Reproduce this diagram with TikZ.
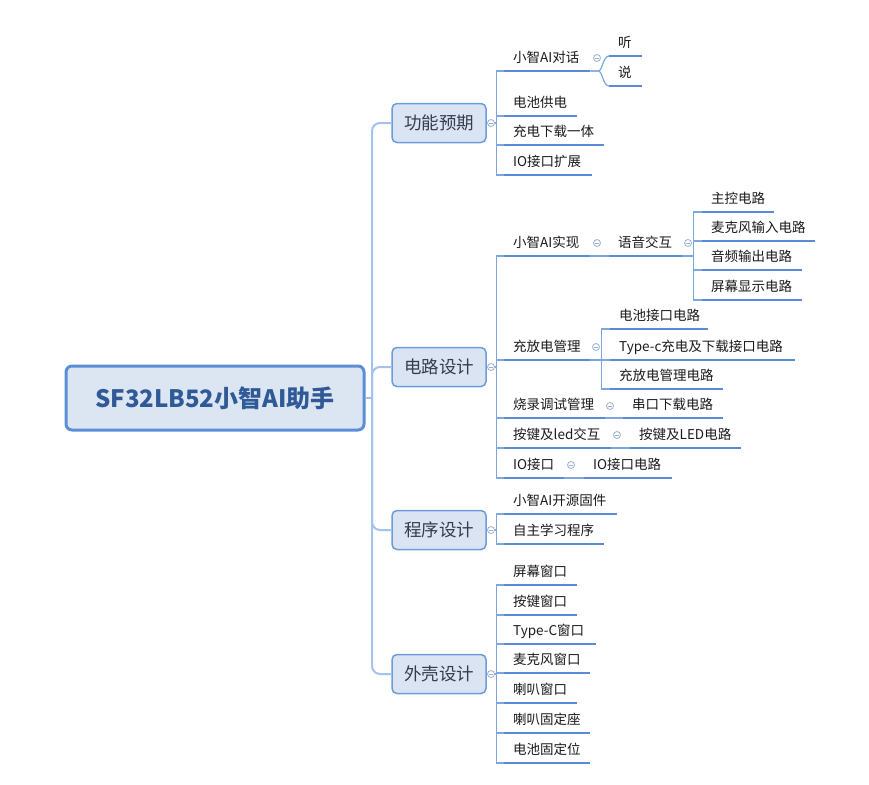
\documentclass[tikz,border=0pt]{standalone}
\usepackage{fontspec}
\setmainfont{Noto Sans CJK SC}
\definecolor{mainB}{HTML}{5A8ED7}
\definecolor{mainF}{HTML}{DCE6F3}
\definecolor{mainT}{HTML}{2F5A97}
\definecolor{topB}{HTML}{6C9CDC}
\definecolor{topF}{HTML}{DAE4F3}
\definecolor{topT}{HTML}{333D4F}
\definecolor{ulc}{HTML}{5B8BD6}
\definecolor{connc}{HTML}{7EA6DE}
\definecolor{trunkc}{HTML}{A4C2EC}
\definecolor{knobB}{HTML}{9AB0CF}
\definecolor{leafT}{HTML}{1A1A1A}
\newcommand\myleaf[5]{\pgfmathsetmacro\lw{#3-#2-18}\node[leaf,text width=\lw pt] (#1) at (#2,#4) {#5};}
\begin{document}
\begin{tikzpicture}[x=1pt,y=-1pt,
  mainbox/.style={draw=mainB, line width=3pt, fill=mainF, rounded corners=6pt, minimum width=298pt, minimum height=64pt, inner sep=0pt, font=\fontsize{24}{27}\selectfont\bfseries, text=mainT},
  topic/.style={draw=topB, line width=1.5pt, fill=topF, rounded corners=5pt, minimum width=94pt, minimum height=39pt, inner sep=0pt, font=\fontsize{17.5}{20}\selectfont, text=topT},
  leaf/.style={anchor=south west, inner xsep=9pt, inner ysep=4pt, text height=11pt, text depth=4pt, align=left, font=\fontsize{13.5}{15}\selectfont, text=leafT},
  uline/.style={draw=ulc, line width=2.5pt},
  conn/.style={draw=connc, line width=1.2pt},
  trunk/.style={draw=trunkc, line width=2pt},
  knob/.style={circle, draw=knobB, fill=white, minimum size=7pt, inner sep=0pt, line width=0.8pt,
    path picture={\draw[knobB, line width=0.8pt] ([xshift=-2pt]path picture bounding box.center) -- ([xshift=2pt]path picture bounding box.center);}}
]
\useasboundingbox (0,0) rectangle (869,784);

% main and topics
\node[mainbox] (main) at (215,398) {SF32LB52小智AI助手};
\node[topic] (t1) at (439,123) {功能预期};
\node[topic] (t2) at (439,367) {电路设计};
\node[topic] (t3) at (439,530) {程序设计};
\node[topic] (t4) at (439,674) {外壳设计};

\coordinate (tj) at (372,398);
\draw[trunk] (main.east) -- (tj);
\foreach \t in {t1,t2,t3,t4} \draw[trunk, rounded corners=8pt] (tj) |- (\t.west);

% leaves
\myleaf{a1}{504}{590}{71}{小智AI对话}
\myleaf{a2}{504}{577}{116}{电池供电}
\myleaf{a3}{504}{604}{145}{充电下载一体}
\myleaf{a4}{504}{592}{175}{IO接口扩展}
\myleaf{a11}{609}{642}{56}{听}
\myleaf{a12}{609}{642}{86}{说}

\myleaf{b1}{504}{590}{256}{小智AI实现}
\myleaf{b2}{504}{590}{360}{充放电管理}
\myleaf{b3}{504}{605}{418}{烧录调试管理}
\myleaf{b4}{504}{611}{448}{按键及led交互}
\myleaf{b5}{504}{564}{478}{IO接口}
\myleaf{b11}{609}{682}{256}{语音交互}
\myleaf{b111}{702}{774}{212}{主控电路}
\myleaf{b112}{702}{815}{241}{麦克风输入电路}
\myleaf{b113}{702}{802}{270}{音频输出电路}
\myleaf{b114}{702}{802}{300}{屏幕显示电路}
\myleaf{b21}{610}{708}{329}{电池接口电路}
\myleaf{b22}{610}{795}{360}{Type-c充电及下载接口电路}
\myleaf{b23}{610}{723}{389}{充放电管理电路}
\myleaf{b31}{623}{723}{418}{串口下载电路}
\myleaf{b41}{630}{741}{448}{按键及LED电路}
\myleaf{b51}{584}{672}{478}{IO接口电路}

\myleaf{c1}{504}{617}{514}{小智AI开源固件}
\myleaf{c2}{504}{604}{544}{自主学习程序}

\myleaf{d1}{504}{577}{585}{屏幕窗口}
\myleaf{d2}{504}{577}{615}{按键窗口}
\myleaf{d3}{504}{596}{644}{Type-C窗口}
\myleaf{d4}{504}{590}{673}{麦克风窗口}
\myleaf{d5}{504}{577}{703}{喇叭窗口}
\myleaf{d6}{504}{590}{733}{喇叭固定座}
\myleaf{d7}{504}{590}{763}{电池固定位}

% knobs
\node[knob] (k1) at (491,123) {};
\node[knob] (k2) at (491,367) {};
\node[knob] (k3) at (491,530) {};
\node[knob] (k4) at (491,674) {};
\node[knob] (ka1) at (597,58) {};
\node[knob] (kb1) at (597,243) {};
\node[knob] (kb11) at (688,243) {};
\node[knob] (kb2) at (596,347) {};
\node[knob] (kb3) at (610,406) {};
\node[knob] (kb4) at (617,435) {};
\node[knob] (kb5) at (571,465) {};

% connectors from topics
\foreach \c in {a1,a2,a3,a4} \draw[conn] (k1.east) -- ++(1.5,0) |- (\c.south west);
\foreach \c in {b1,b2,b3,b4,b5} \draw[conn] (k2.east) -- ++(1.5,0) |- (\c.south west);
\foreach \c in {c1,c2} \draw[conn] (k3.east) -- ++(1.5,0) |- (\c.south west);
\foreach \c in {d1,d2,d3,d4,d5,d6,d7} \draw[conn] (k4.east) -- ++(1.5,0) |- (\c.south west);

% deeper connectors
\foreach \c in {a11,a12} \draw[conn] (a1.south east) -- ++(8,0) .. controls +(4,0) and +(-6,0) .. (\c.south west);
\draw[conn] (b1.south east) -- (b11.south west);
\foreach \c in {b111,b112,b113,b114} \draw[conn] (b11.south east) -- ++(11,0) |- (\c.south west);
\foreach \c in {b21,b22,b23} \draw[conn] (b2.south east) -- ++(11,0) |- (\c.south west);
\draw[conn] (b3.south east) -- (b31.south west);
\draw[conn] (b4.south east) -- (b41.south west);
\draw[conn] (b5.south east) -- (b51.south west);

% underlines
\foreach \n in {a1,a2,a3,a4,a11,a12,b1,b2,b3,b4,b5,b11,b111,b112,b113,b114,b21,b22,b23,b31,b41,b51,c1,c2,d1,d2,d3,d4,d5,d6,d7}
  \draw[uline] (\n.south west) -- (\n.south east);
\end{tikzpicture}
\end{document}
